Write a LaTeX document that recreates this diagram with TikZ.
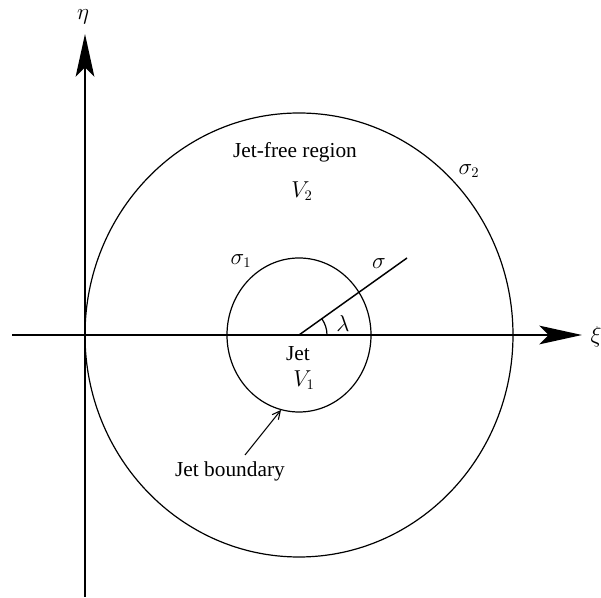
\documentclass[tikz,border=0pt]{standalone}
\usepackage{fontspec}
\setmainfont{Liberation Serif}
\usetikzlibrary{arrows.meta}
\begin{document}
\begin{tikzpicture}[x=0.75pt,y=-0.75pt,
  axis/.style={line width=1.6pt,-{Stealth[length=32pt,width=14pt,inset=7pt]}},
  lbl/.style={font=\fontsize{16}{18}\selectfont, inner sep=0pt},
  curve/.style={line width=0.9pt},
  pointer/.style={line width=0.8pt,-{Straight Barb[length=6pt,width=6pt]}}]
\useasboundingbox (0,0) rectangle (601,598);
\coordinate (O) at (299,335);
\coordinate (xs) at (12,335);
\coordinate (xe) at (582,335);
\coordinate (ys) at (85,597);
\coordinate (ye) at (85,34);
\coordinate (send) at (407,258);
\coordinate (btail) at (245,455);
\coordinate (btip) at (281,410);
% axes
\draw[axis] (xs) -- (xe);
\draw[axis] (ys) -- (ye);
% circles
\draw[curve] (O) ellipse [x radius=214, y radius=222];
\draw[curve] (O) ellipse [x radius=72, y radius=77];
% sigma ray and angle
\draw[line width=1.1pt] (O) -- (send);
\draw[curve] ([shift={(28,0)}]O) arc[start angle=0, end angle=-35, x radius=28, y radius=28];
% pointer
\draw[pointer] (btail) -- (btip);
% labels
\node[lbl] (eta) at (83,17) {$\eta$};
\node[lbl] (xi) at (596,337) {$\xi$};
\node[lbl] (free) at (295,152) {Jet-free region};
\node[lbl] (V2) at (302,191) {$V_2$};
\node[lbl] (s2) at (469,171) {$\sigma_2$};
\node[lbl] (s1) at (241,261) {$\sigma_1$};
\node[lbl] (s) at (379,264) {$\sigma$};
\node[lbl] (lam) at (343,324) {$\lambda$};
\node[lbl] (jet) at (298,354) {Jet};
\node[lbl] (V1) at (304,380) {$V_1$};
\node[lbl] (jb) at (230,471) {Jet boundary};
\end{tikzpicture}
\end{document}
